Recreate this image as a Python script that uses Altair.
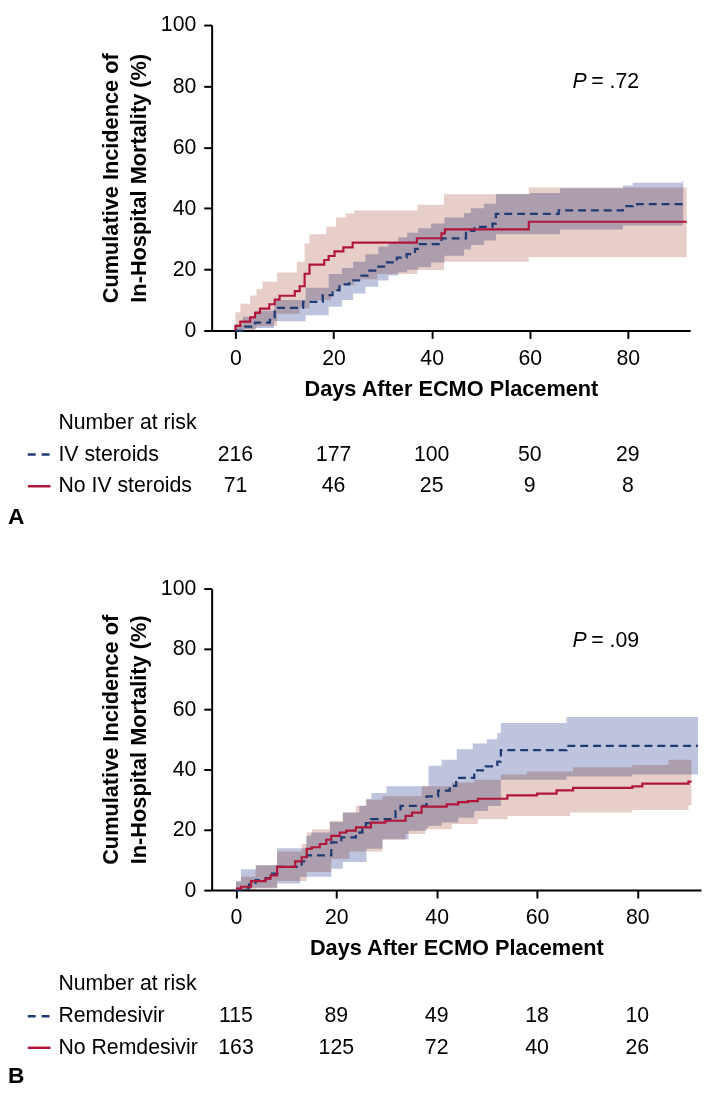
import altair as alt
import pandas as pd

FONT = "Liberation Sans, Arial, Helvetica, sans-serif"
BLUE = "#1f3b73"
RED = "#b0163a"
BLUE_BAND = "#bec4de"
RED_BAND = "#e8cec8"

TICKS_X = [0, 20, 40, 60, 80]
TICKS_Y = [0, 20, 40, 60, 80, 100]
X_TITLE = "Days After ECMO Placement"
Y_TITLE = ["Cumulative Incidence of", "In-Hospital Mortality (%)"]

# ---------------- Panel A: IV steroids vs no IV steroids ----------------
a_labels = ["IV steroids", "No IV steroids"]
a_blue_days = [0, 2, 4, 7, 8, 13.8, 17.8, 19.8, 21.2, 23.2, 25.2, 26.9, 28.9, 30.9, 32.9, 34.9,
               36.6, 37.6, 42, 47, 48.7, 52.4, 53.1, 65.9, 79, 81, 91, 91.2]
a_blue_vals = [0, 1.3, 2.6, 3.5, 7.4, 9.4, 11.6, 13.2, 15.1, 16.4, 18.0, 19.6, 20.9, 22.3, 23.9, 25.0,
               26.7, 28.3, 30.2, 32.6, 33.9, 35.0, 38.2, 39.3, 40.7, 41.4, 42.2, 42.2]
a_red_days = [0, 0, 1, 3, 4, 5, 6.9, 8, 9, 12.1, 13.1, 14.1, 15.1, 18.1, 19, 20.2, 22, 23.9,
              37, 42, 42.7, 59.8, 92]
a_red_vals = [0, 1.5, 2.9, 4.3, 5.8, 7.2, 8.6, 10.1, 11.4, 12.9, 14.5, 18.6, 21.6, 23.1, 24.4, 25.9,
              27.2, 28.8, 30.2, 31.8, 33.1, 35.6, 35.6]
a_blue_band_days = [0, 1.5, 4, 7.9, 14.3, 19, 21.7, 24, 26.5, 29.1, 31.2, 33.2, 35, 37.2, 39.9, 42.6,
                    46.6, 48, 50.7, 53.1, 60.1, 66.2, 79, 81, 91.1, 91.3]
a_blue_band_hi = [2.0, 4.5, 6.5, 10.0, 14.0, 18.5, 20.5, 22.5, 25.0, 27.5, 29.0, 30.5, 32.0, 33.5,
                  35.0, 37.0, 38.5, 40.0, 41.5, 44.7, 45.0, 46.6, 47.5, 48.4, 49.0, 49.0]
a_blue_band_lo = [0.3, 0.3, 0.8, 3.0, 5.0, 7.8, 10.0, 12.1, 14.3, 16.4, 18.0, 19.1, 19.9, 20.7, 22.3,
                  24.5, 26.5, 28.0, 29.5, 31.5, 31.5, 33.1, 34.4, 34.4, 34.7, 34.7]
a_red_band_days = [0, 1, 3, 4.3, 5.5, 8.5, 12.5, 13.1, 14.1, 15.1, 18.5, 19.5, 20.5, 21.5, 22.5,
                   24.2, 28.9, 37.1, 42.5, 59.8, 92]
a_red_band_hi = [6.0, 8.8, 11.5, 13.5, 16.0, 19.0, 22.5, 22.5, 28.5, 31.5, 34.0, 34.0, 37.0, 37.0,
                 38.3, 39.3, 39.3, 41.2, 44.6, 46.8, 46.8]
a_red_band_lo = [0.3, 0.3, 0.3, 1.5, 1.5, 5.5, 5.5, 7.3, 7.3, 9.9, 9.9, 12.8, 12.8, 14.8, 14.8,
                 16.8, 18.5, 19.8, 22.5, 24.0, 24.0]
a_risk_blue = [216, 177, 100, 50, 29]
a_risk_red = [71, 46, 25, 9, 8]
a_p = ".72"

# ---------------- Panel B: Remdesivir vs no Remdesivir ----------------
b_labels = ["Remdesivir", "No Remdesivir"]
b_blue_days = [0, 1, 2.6, 3.9, 5.9, 7.2, 8.2, 13.1, 14.1, 19, 21, 23.9, 25.2, 25.9, 26.9, 31.8,
               32.8, 38, 40.3, 42.6, 43.9, 47.5, 49.8, 52.1, 52.8, 65.9, 92.1]
b_blue_vals = [0, 0.8, 1.9, 3.3, 4.0, 5.5, 7.7, 9.5, 11.5, 15.8, 17.5, 19.1, 20.2, 22.2, 23.5, 26.2,
               27.9, 31.1, 33.0, 34.6, 37.2, 39.7, 41.0, 42.6, 46.4, 47.8, 47.8]
b_red_days = [0, 1, 3, 5.9, 6.9, 8.2, 11.8, 13.1, 14.1, 15.1, 16.7, 18, 19, 20.7, 22, 23.9, 26.9,
              29.8, 33.8, 35.1, 37, 42, 44.3, 46.2, 48.2, 54.1, 60, 63.9, 67.2, 79, 81, 90.2, 90.8]
b_red_vals = [0.5, 1.1, 3.0, 3.8, 4.9, 7.7, 9.5, 10.9, 13.7, 14.2, 15.3, 16.7, 18.0, 19.1, 19.7,
              20.8, 22.4, 23.0, 24.6, 25.7, 27.7, 28.4, 29.2, 29.5, 30.3, 31.4, 32.0, 33.1, 33.9,
              34.4, 35.3, 36.0, 36.0]
b_blue_band_days = [0, 1, 2.9, 4, 8.2, 12.8, 14, 15, 18.7, 19, 21.3, 24.6, 26, 27, 29.2, 30, 34.4,
                    38, 38.4, 41, 44, 44.3, 47.2, 47.5, 50, 50.2, 52.1, 52.8, 65.9, 79, 92.1]
b_blue_band_hi = [3.0, 6.9, 6.9, 8.2, 13.9, 13.9, 18.0, 19.1, 22.6, 22.6, 25.7, 28.0, 30.3, 32.2,
                  32.2, 34.4, 34.4, 34.4, 41.2, 43.2, 46.7, 46.7, 48.6, 48.6, 50.0, 50.0, 52.1,
                  55.4, 57.4, 57.4, 57.4]
b_blue_band_lo = [0, 0, 0.8, 0.8, 2.2, 4.4, 4.4, 4.4, 4.4, 7.1, 9.3, 9.3, 13.7, 13.7, 16.9, 16.9,
                  19.7, 20.8, 21.3, 22.4, 22.4, 24.0, 24.0, 26.2, 26.2, 27.9, 27.9, 36.6, 37.7,
                  38.3, 38.3]
b_red_band_days = [0, 1, 3.9, 8.2, 13.1, 14.1, 15.1, 18.7, 19, 21.3, 22.6, 23.9, 25.9, 29.2, 33.8,
                   37, 37.7, 43, 47.5, 48.2, 52.8, 54.1, 58, 66.6, 67.2, 79, 86.2, 90.2, 90.8]
b_red_band_hi = [2.7, 4.4, 8.2, 12.8, 15.3, 19.1, 20.2, 23.0, 23.0, 25.7, 25.7, 28.0, 30.0, 31.1,
                 31.1, 34.4, 34.4, 35.7, 36.6, 36.6, 38.3, 38.3, 39.3, 39.3, 40.7, 41.5, 43.2,
                 43.2, 43.2]
b_red_band_lo = [0, 0, 0.5, 3.0, 3.0, 6.0, 6.0, 6.0, 10.4, 10.4, 12.8, 12.8, 12.8, 16.7, 18.6,
                 18.6, 20.2, 21.9, 21.9, 23.5, 23.5, 24.6, 24.6, 25.7, 25.7, 26.6, 26.6, 28.1, 28.1]
b_risk_blue = [115, 89, 49, 18, 10]
b_risk_red = [163, 125, 72, 40, 26]
b_p = ".09"

XS = alt.Scale(domain=[-4.85, 92.7], nice=False, zero=False)
YS = alt.Scale(domain=[0, 100], nice=False, zero=False)
XA = alt.Axis(values=TICKS_X, title=X_TITLE, format="d")
YA = alt.Axis(values=TICKS_Y, title=Y_TITLE, format="d")


def X(field):
    return alt.X(f"{field}:Q", scale=XS, axis=XA)


def Y(field):
    return alt.Y(f"{field}:Q", scale=YS, axis=YA)


def line_df(days, vals):
    assert len(days) == len(vals)
    return pd.DataFrame({"day": days, "val": vals, "i": list(range(len(days)))})


def band_df(days, lo, hi):
    assert len(days) == len(lo) == len(hi)
    return pd.DataFrame({"day": days, "lo": lo, "hi": hi})


def panel(width, height, blue_line, red_line, blue_band, red_band, labels,
          risk_blue, risk_red, p_text, p_px, p_py, letter, row_offs, letter_off):
    layers = []
    layers.append(alt.Chart(band_df(*red_band)).mark_area(
        interpolate="step-after", color=RED_BAND, opacity=1, blend="multiply"
    ).encode(x=X("day"), y=Y("lo"), y2="hi:Q"))
    layers.append(alt.Chart(band_df(*blue_band)).mark_area(
        interpolate="step-after", color=BLUE_BAND, opacity=1, blend="multiply"
    ).encode(x=X("day"), y=Y("lo"), y2="hi:Q"))
    layers.append(alt.Chart(line_df(*blue_line)).mark_line(
        interpolate="step-after", color=BLUE, strokeWidth=2.3, strokeDash=[8, 5]
    ).encode(x=X("day"), y=Y("val"), order="i:Q"))
    layers.append(alt.Chart(line_df(*red_line)).mark_line(
        interpolate="step-after", color=RED, strokeWidth=2.2
    ).encode(x=X("day"), y=Y("val"), order="i:Q"))

    # P value
    one = pd.DataFrame({"k": [0]})
    layers.append(alt.Chart(one).mark_text(
        text="P", fontStyle="italic", fontSize=21.5, align="left", baseline="middle", color="black"
    ).encode(x=alt.value(p_px), y=alt.value(p_py)))
    layers.append(alt.Chart(one).mark_text(
        text="= " + p_text, fontSize=21.5, align="left", baseline="middle", color="black", dx=19
    ).encode(x=alt.value(p_px), y=alt.value(p_py)))

    # number at risk table
    layers.append(alt.Chart(one).mark_text(
        text="Number at risk", fontSize=21.5, align="left", baseline="middle", color="black"
    ).encode(x=alt.value(-155), y=alt.value(height + row_offs[0])))
    rows = [(labels[0], risk_blue, BLUE, [8, 6]), (labels[1], risk_red, RED, None)]
    for k, (lab, counts, col, dash) in enumerate(rows):
        yp = height + row_offs[k + 1]
        layers.append(alt.Chart(one).mark_text(
            text=lab, fontSize=21.5, align="left", baseline="middle", color="black"
        ).encode(x=alt.value(-155), y=alt.value(yp)))
        rule_kw = dict(color=col, strokeWidth=2.5)
        if dash:
            rule_kw["strokeDash"] = dash
        layers.append(alt.Chart(one).mark_rule(**rule_kw).encode(
            x=alt.value(-186), x2=alt.value(-163), y=alt.value(yp)))
        layers.append(alt.Chart(pd.DataFrame({"day": TICKS_X, "n": counts})).mark_text(
            fontSize=21.5, align="center", baseline="middle", color="black"
        ).encode(x=X("day"), y=alt.value(yp), text="n:N"))

    layers.append(alt.Chart(one).mark_text(
        text=letter, fontSize=23, fontWeight="bold", align="left", baseline="middle", color="black"
    ).encode(x=alt.value(-206), y=alt.value(height + letter_off)))

    return alt.layer(*layers).properties(width=width, height=height)


pa = panel(484, 309,
           (a_blue_days, a_blue_vals), (a_red_days, a_red_vals),
           (a_blue_band_days, a_blue_band_lo, a_blue_band_hi),
           (a_red_band_days, a_red_band_lo, a_red_band_hi),
           a_labels, a_risk_blue, a_risk_red, a_p, 365, 57.5, "A",
           [94, 125.5, 157.5], 189)
pb = panel(495, 305,
           (b_blue_days, b_blue_vals), (b_red_days, b_red_vals),
           (b_blue_band_days, b_blue_band_lo, b_blue_band_hi),
           (b_red_band_days, b_red_band_lo, b_red_band_hi),
           b_labels, b_risk_blue, b_risk_red, b_p, 365, 53, "B",
           [95, 127.5, 159.5], 188)

chart = alt.vconcat(pa, pb, spacing=49).properties(padding=0).configure_axis(
    domainColor="black", domainWidth=2, tickColor="black", tickWidth=2, tickSize=8,
    labelFont=FONT, labelFontSize=21.5, labelColor="black",
    titleFont=FONT, titleFontSize=22, titleFontWeight="bold", titleColor="black",
    grid=False,
).configure_axisX(labelPadding=9, titlePadding=10).configure_axisY(
    labelPadding=8, titlePadding=10, titleLineHeight=28
).configure_view(stroke=None).configure_text(font=FONT)

chart.save("out.html", embed_options={"renderer": "svg", "actions": False})
